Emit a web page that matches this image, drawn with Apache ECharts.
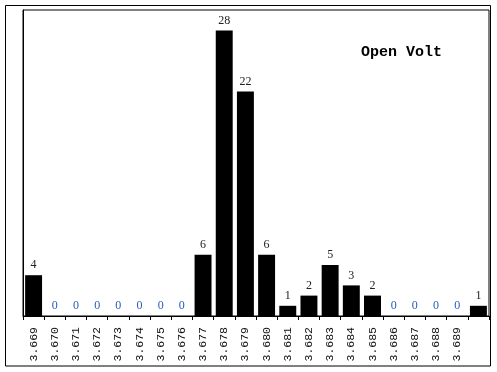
<!DOCTYPE html>
<html><head><meta charset="utf-8">
<script src="https://cdn.jsdelivr.net/npm/echarts@6/dist/echarts.min.js"></script>
<style>html,body{margin:0;padding:0;background:#fff}#c{width:497px;height:372px}</style>
</head><body><div id="c"></div>
<script>
var categories = ['3.669','3.670','3.671','3.672','3.673','3.674','3.675','3.676','3.677','3.678','3.679','3.680','3.681','3.682','3.683','3.684','3.685','3.686','3.687','3.688','3.689',''];
var counts = [4,0,0,0,0,0,0,0,6,28,22,6,1,2,5,3,2,0,0,0,0,1];
var titleText = 'Open Volt';
var chart = echarts.init(document.getElementById('c'), null, {renderer:'canvas'});
chart.setOption({
  animation:false,
  backgroundColor:'#fff',
  title:{text:titleText,left:356,top:40,textStyle:{fontFamily:'Liberation Mono',fontWeight:'bold',fontSize:15,color:'#000'}},
  graphic:[{type:'rect',shape:{x:5.5,y:5.5,width:485,height:360.5},style:{fill:'none',stroke:'#000',lineWidth:1},silent:true}],
  grid:{left:23,top:10,right:8,bottom:56,show:true,borderColor:'#000',borderWidth:1,backgroundColor:'transparent'},
  xAxis:{type:'category',data:categories,boundaryGap:true,
    axisLine:{lineStyle:{color:'#000',width:1}},
    axisTick:{show:true,alignWithLabel:false,length:4,lineStyle:{color:'#000'}},
    axisLabel:{rotate:90,interval:0,margin:11,fontFamily:'Liberation Mono',fontSize:11.5,color:'#111'}},
  yAxis:{type:'value',min:0,max:30,splitLine:{show:false},axisLabel:{show:false},axisTick:{show:false},
    axisLine:{show:true,lineStyle:{color:'#000'}}},
  series:[{type:'bar',barCategoryGap:'20%',itemStyle:{color:'#000'},
    data:counts.map(function(v){return {value:v,label:{color:v===0?'#2a5cb8':'#222'}};}),
    label:{show:true,position:'top',distance:4,fontFamily:'Liberation Serif',fontSize:12,
      formatter:function(p){return String(p.value);}}}]
});
</script></body></html>
